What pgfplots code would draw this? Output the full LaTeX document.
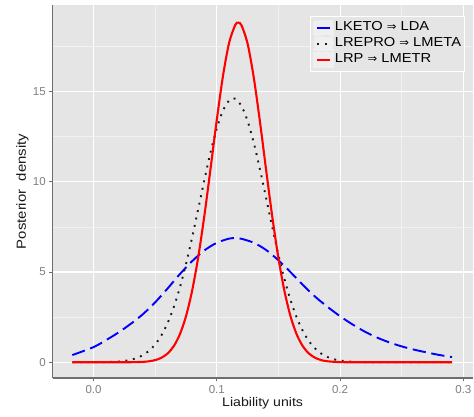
\documentclass[border=0pt]{standalone}
\usepackage{fontspec}
\setmainfont{Liberation Sans}[FakeStretch=1.13]
\newfontfamily\tickfont{Liberation Sans}
\newfontfamily\arrowfont{DejaVu Sans}[FakeStretch=1.05]
\usepackage{pgfplots}
\pgfplotsset{compat=1.18}
\definecolor{panel}{HTML}{E5E5E5}
\definecolor{minorgrid}{HTML}{F2F2F2}
\definecolor{keybg}{HTML}{EFEFEF}
\definecolor{axisline}{HTML}{6E6E6E}
\definecolor{ticklab}{HTML}{7F7F7F}
\definecolor{titlecol}{HTML}{1A1A1A}
\newcommand{\arr}{{\arrowfont\fontsize{11}{13}\selectfont ⇒}}
\begin{document}
\begin{tikzpicture}
\begin{axis}[
  scale only axis, width=419.8pt, height=373pt,
  xmin=-0.0331, xmax=0.3074, ymin=-0.87, ymax=19.79,
  axis background/.style={fill=panel},
  axis lines*=left,
  axis line style={draw=axisline, line width=1.3pt, -},
  xtick={0,0.1,0.2,0.3}, ytick={0,5,10,15},
  minor xtick={0.05,0.15,0.25}, minor ytick={2.5,7.5,12.5,17.5},
  xticklabels={0.0,0.1,0.2,0.3}, yticklabels={0,5,10,15},
  grid=both,
  major grid style={white, line width=1.1pt},
  minor grid style={minorgrid, line width=0.6pt},
  tick align=outside,
  major tick length=3.5pt, minor tick length=0pt,
  tick style={draw=axisline, line width=0.9pt},
  ticklabel style={font=\tickfont\fontsize{11.5}{13}\selectfont, text=ticklab},
  xlabel={Liability units}, ylabel={Posterior\ \ density},
  xlabel style={font=\fontsize{12.5}{14}\selectfont, text=titlecol,
    at={([yshift=-28.7pt]axis description cs:0.5,0)}, anchor=base},
  ylabel style={font=\fontsize{13.2}{14}\selectfont, text=titlecol,
    at={([xshift=-26.7pt]axis description cs:0,0.5)}, anchor=base},
  legend cell align=left,
  legend image code/.code={
    \fill[keybg] (-3pt,-7pt) rectangle (16pt,7pt);
    \draw[#1] (0pt,0pt) -- (13pt,0pt);
  },
  legend style={at={(0.9821,0.9705)}, anchor=north east, fill=panel, draw=white,
    line width=0.8pt, font=\fontsize{13}{14}\selectfont, row sep=0pt,
    inner xsep=3pt, inner ysep=3.5pt,
    nodes={inner sep=0.5pt, text height=9.8pt, text depth=3.8pt}},
]
\addplot[draw=blue, line width=1.9pt, dash pattern=on 13.3pt off 5.7pt, smooth] coordinates {
(-0.0172,0.40) (0.000,0.84) (0.010,1.22) (0.020,1.64) (0.030,2.12) (0.040,2.66)
(0.050,3.32) (0.060,4.08) (0.070,4.88) (0.080,5.60) (0.090,6.20) (0.100,6.62)
(0.110,6.85) (0.115,6.88) (0.120,6.84) (0.130,6.62) (0.140,6.22) (0.150,5.65)
(0.160,4.98) (0.170,4.27) (0.180,3.62) (0.190,3.06) (0.200,2.55) (0.210,2.10)
(0.220,1.70) (0.230,1.37) (0.240,1.10) (0.250,0.88) (0.260,0.70) (0.270,0.55)
(0.280,0.41) (0.2908,0.29)
};
\addlegendentry{LKETO \arr\ LDA}
\addplot[draw=black!90, line width=1.9pt, dash pattern=on 1.9pt off 5.7pt, smooth] coordinates {
(-0.0172,0) (0.000,0.003) (0.010,0.011) (0.020,0.042) (0.025,0.077) (0.030,0.138)
(0.035,0.237) (0.040,0.394) (0.045,0.634) (0.050,0.986) (0.055,1.484) (0.060,2.158)
(0.065,3.037) (0.070,4.132) (0.075,5.436) (0.080,6.917) (0.085,8.510) (0.090,10.126)
(0.095,11.649) (0.100,12.961) (0.105,13.944) (0.110,14.507) (0.1134,14.62) (0.115,14.595)
(0.120,14.199) (0.125,13.358) (0.130,12.152) (0.135,10.690) (0.140,9.095) (0.145,7.483)
(0.150,5.952) (0.155,4.579) (0.160,3.406) (0.165,2.450) (0.170,1.705) (0.175,1.146)
(0.180,0.746) (0.185,0.469) (0.190,0.285) (0.195,0.168) (0.200,0.095) (0.210,0.028)
(0.220,0.007) (0.240,0) (0.2908,0)
};
\addlegendentry{LREPRO \arr\ LMETA}
\addplot[draw=red, line width=2.1pt, smooth] coordinates {
(-0.0172,0) (0.020,0) (0.030,0.004) (0.040,0.024) (0.045,0.055) (0.050,0.120)
(0.055,0.247) (0.060,0.481) (0.065,0.886) (0.070,1.544) (0.075,2.546) (0.080,3.969)
(0.085,5.850) (0.090,8.160) (0.095,10.763) (0.100,13.430) (0.105,15.853) (0.110,17.699)
(0.115,18.690) (0.1174,18.81) (0.120,18.669) (0.125,17.641) (0.130,15.765) (0.135,13.327)
(0.140,10.656) (0.145,8.060) (0.150,5.767) (0.155,3.903) (0.160,2.498) (0.165,1.512)
(0.170,0.867) (0.175,0.469) (0.180,0.241) (0.185,0.116) (0.190,0.053) (0.200,0.010)
(0.210,0.001) (0.220,0) (0.2908,0)
};
\addlegendentry{LRP \arr\ LMETR}
\end{axis}
\pgfresetboundingbox
\useasboundingbox (-52.7pt,-39pt) rectangle (421.3pt,378pt);
\end{tikzpicture}
\end{document}
